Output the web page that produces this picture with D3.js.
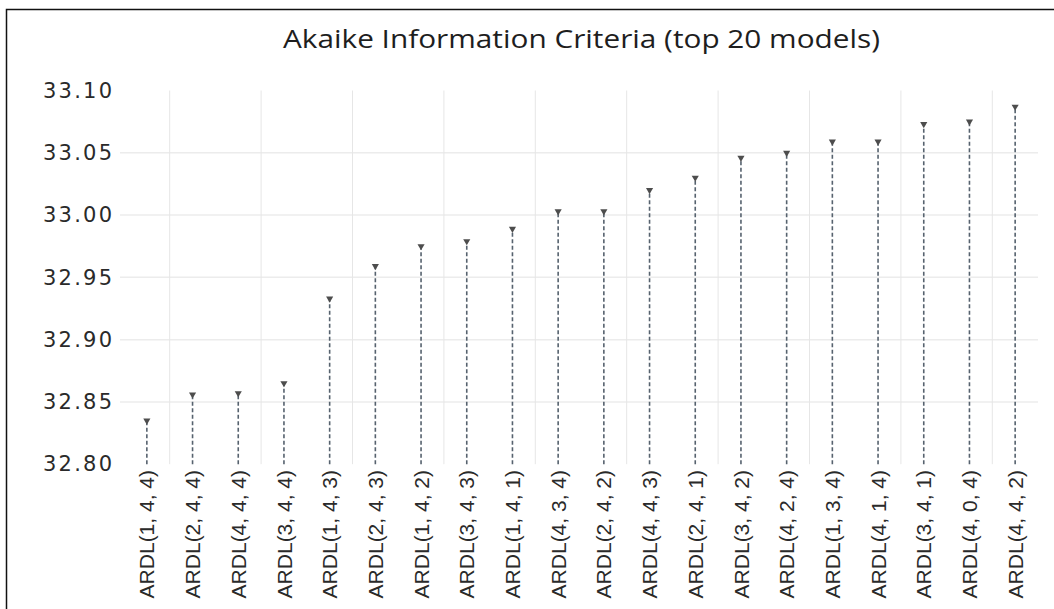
<!DOCTYPE html>
<html>
<head>
<meta charset="utf-8">
<script src="https://cdn.jsdelivr.net/npm/d3@7"></script>
<style>
  html, body { margin: 0; padding: 0; background: #fff; overflow: hidden; }
  svg { display: block; }
</style>
</head>
<body>
<svg id="chart" width="1054" height="609"></svg>
<script>
// Model labels, ordered by AIC
const models = [
  "ARDL(1, 4, 4)", "ARDL(2, 4, 4)", "ARDL(4, 4, 4)", "ARDL(3, 4, 4)",
  "ARDL(1, 4, 3)", "ARDL(2, 4, 3)", "ARDL(1, 4, 2)", "ARDL(3, 4, 3)",
  "ARDL(1, 4, 1)", "ARDL(4, 3, 4)", "ARDL(2, 4, 2)", "ARDL(4, 4, 3)",
  "ARDL(2, 4, 1)", "ARDL(3, 4, 2)", "ARDL(4, 2, 4)", "ARDL(1, 3, 4)",
  "ARDL(4, 1, 4)", "ARDL(3, 4, 1)", "ARDL(4, 0, 4)", "ARDL(4, 4, 2)"
];
// Akaike information criterion values
const aic = [
  32.835, 32.856, 32.857, 32.865,
  32.933, 32.959, 32.975, 32.979,
  32.989, 33.003, 33.003, 33.020,
  33.030, 33.046, 33.050, 33.059,
  33.059, 33.073, 33.075, 33.087
];
const yTicks = [32.80, 32.85, 32.90, 32.95, 33.00, 33.05, 33.10];
const titleText = "Akaike Information Criteria (top 20 models)";

const svg = d3.select("#chart");

// outer frame (top and left edges visible)
svg.append("rect")
  .attr("x", 6.5).attr("y", 9.5)
  .attr("width", 1100).attr("height", 700)
  .attr("fill", "#fff")
  .attr("stroke", "#111").attr("stroke-width", 1.5);

const left = 124, right = 1038;
const x = d3.scaleBand().domain(models).range([left, right]).padding(0);
const y = d3.scaleLinear().domain([32.80, 33.10]).range([464.2, 90.5]);
const cx = d => x(d) + x.bandwidth() / 2;

// horizontal gridlines
svg.append("g").selectAll("line")
  .data(yTicks.filter(t => t > 32.80 && t < 33.10))
  .join("line")
  .attr("x1", 120).attr("x2", right)
  .attr("y1", d => y(d)).attr("y2", d => y(d))
  .attr("stroke", "#ececec").attr("stroke-width", 1.5);

// vertical gridlines between every second pair of models
svg.append("g").selectAll("line")
  .data(models.filter((d, i) => i % 2 === 0))
  .join("line")
  .attr("x1", d => x(d) + x.bandwidth()).attr("x2", d => x(d) + x.bandwidth())
  .attr("y1", y(33.10)).attr("y2", y(32.80))
  .attr("stroke", "#e6e6e6").attr("stroke-width", 1);

// y tick labels
const yAxis = d3.axisLeft(y).tickValues(yTicks).tickFormat(d3.format(".2f")).tickSize(0);
const gy = svg.append("g").attr("transform", "translate(112,0)").call(yAxis);
gy.select(".domain").remove();
gy.selectAll("text")
  .attr("x", 0)
  .attr("font-family", "DejaVu Sans, Verdana, sans-serif")
  .attr("font-size", 21)
  .attr("fill", "#2a2a2a")
  .attr("textLength", 69)
  .attr("lengthAdjust", "spacing");

// x labels, rotated
const xAxis = d3.axisBottom(x).tickSize(0);
const gx = svg.append("g").attr("transform", "translate(0,470)").call(xAxis);
gx.select(".domain").remove();
gx.selectAll("text")
  .attr("font-family", "Liberation Sans, Arial, sans-serif")
  .attr("font-size", 21)
  .attr("fill", "#2a2a2a")
  .attr("text-anchor", "end")
  .attr("transform", "rotate(-90)")
  .attr("x", 0).attr("y", 0)
  .attr("dy", "0.36em");

// dashed stems
svg.append("g").selectAll("line")
  .data(models)
  .join("line")
  .attr("x1", d => cx(d)).attr("x2", d => cx(d))
  .attr("y1", y(32.80))
  .attr("y2", (d, i) => y(aic[i]))
  .attr("stroke", "#56626e").attr("stroke-width", 1.6)
  .attr("stroke-dasharray", "4,2.5");

// downward triangle markers
const tri = d3.symbol().type(d3.symbolTriangle).size(22);
svg.append("g").selectAll("path")
  .data(models)
  .join("path")
  .attr("d", tri)
  .attr("transform", (d, i) => `translate(${cx(d)},${y(aic[i])}) rotate(180)`)
  .attr("fill", "#4d4d4d");

// title
svg.append("text")
  .attr("x", 581.5).attr("y", 48)
  .attr("text-anchor", "middle")
  .attr("font-family", "Open Sans, Noto Sans, sans-serif")
  .attr("font-size", 26)
  .attr("fill", "#1e1e1e")
  .attr("textLength", 597)
  .attr("lengthAdjust", "spacingAndGlyphs")
  .text(titleText);
</script>
</body>
</html>
